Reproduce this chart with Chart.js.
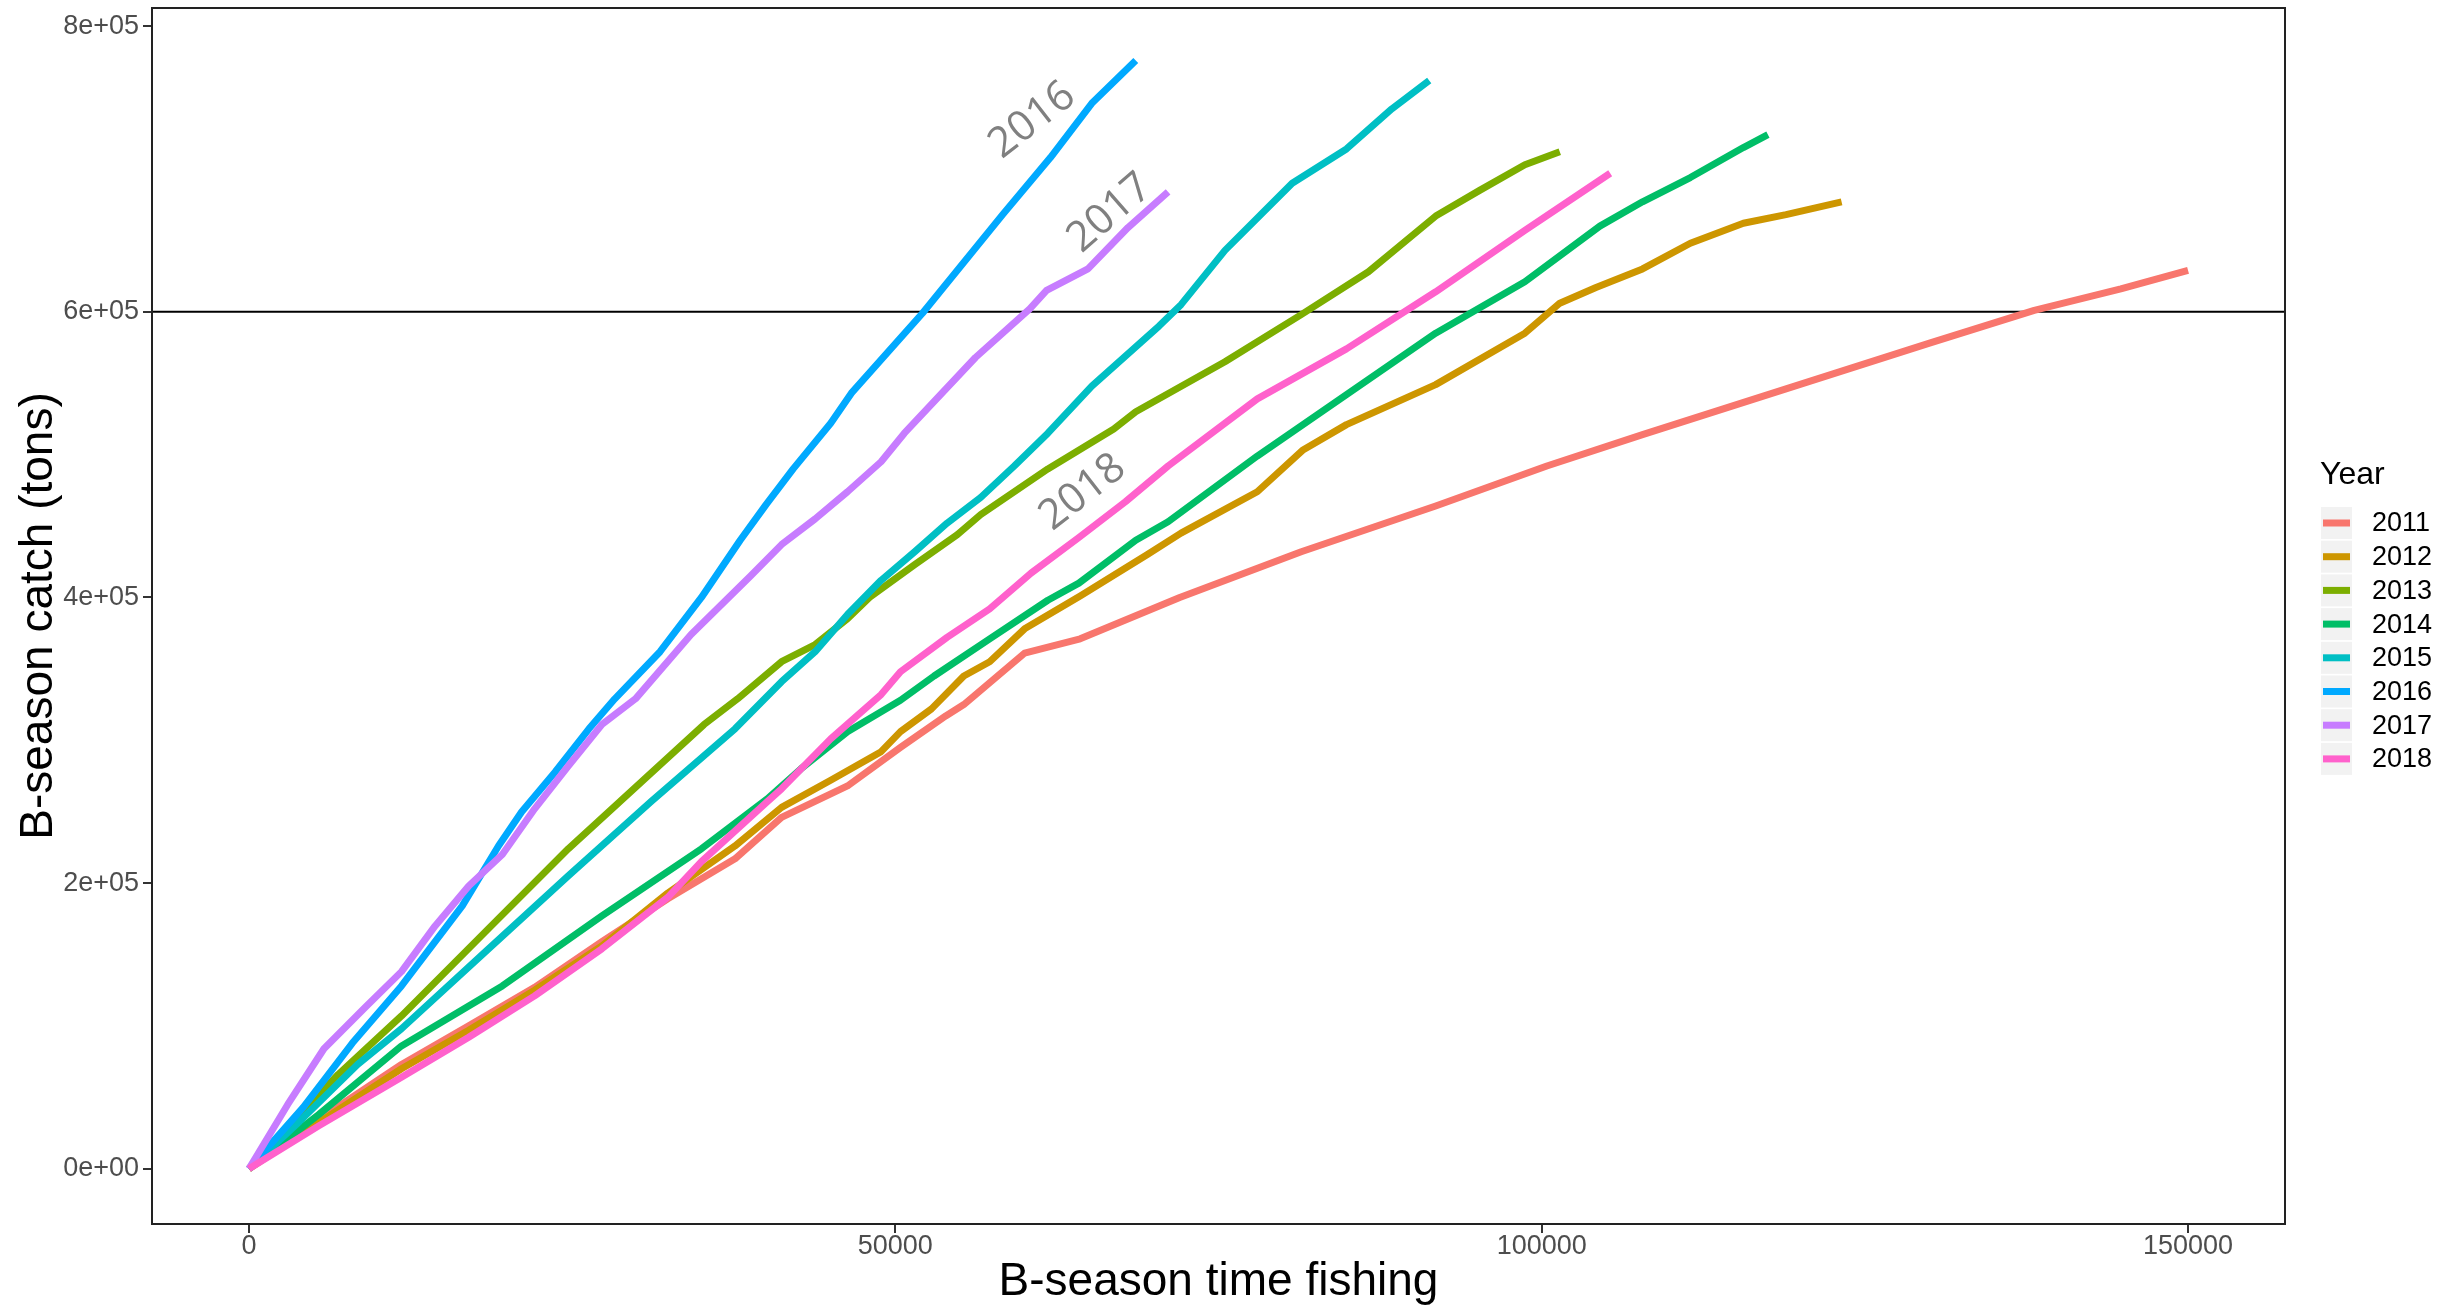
<!DOCTYPE html>
<html>
<head>
<meta charset="utf-8">
<script src="https://cdn.jsdelivr.net/npm/chart.js@4.4.1/dist/chart.umd.min.js"></script>
<style>
  html, body { margin: 0; padding: 0; background: #ffffff; }
  #wrap { width: 2463px; height: 1310px; }
</style>
</head>
<body>
<div id="wrap"><canvas id="c" width="2463" height="1310"></canvas></div>
<script>
// ---------------- DATA ----------------
const years = ['2011', '2012', '2013', '2014', '2015', '2016', '2017', '2018'];

const x2011 = [0, 5000, 11800, 17000, 22100, 27300, 32400, 37600, 41200, 46300, 50400, 53900, 55300, 60000, 64300, 72000, 81400, 91800, 100400, 107800, 118900, 130000, 138100, 144800, 150000];
const y2011 = [0, 32000, 73000, 100000, 127000, 159000, 189000, 217000, 246000, 268000, 295000, 317000, 325000, 361000, 371000, 400000, 432000, 464000, 492000, 514000, 546000, 578000, 601000, 616000, 629000];

const x2012 = [0, 5000, 11800, 17000, 22100, 27300, 32400, 37600, 41200, 45000, 48900, 50400, 52800, 55300, 57300, 60000, 64300, 69500, 72100, 78000, 81500, 84900, 91800, 98700, 101400, 104200, 107800, 111500, 115600, 118900, 123200];
const y2012 = [0, 30000, 70000, 97000, 125000, 156000, 193000, 226000, 253000, 272000, 292000, 306000, 322000, 345000, 355000, 378000, 401000, 430000, 445000, 474000, 503000, 521000, 549000, 585000, 606000, 617000, 630000, 648000, 662000, 668000, 677000];

const x2013 = [0, 6900, 11800, 18300, 24700, 31100, 35200, 37800, 41200, 43800, 46300, 48000, 51500, 54800, 56600, 61800, 66900, 68600, 75500, 81400, 86600, 91800, 95200, 98700, 101400];
const y2013 = [0, 66000, 107000, 166000, 224000, 277000, 311000, 329000, 355000, 367000, 385000, 400000, 423000, 444000, 458000, 490000, 518000, 530000, 565000, 598000, 628000, 667000, 685000, 703000, 712000];

const x2014 = [0, 5400, 11800, 19600, 27300, 35000, 40100, 42700, 46300, 50400, 53000, 57300, 61800, 64200, 68600, 71100, 78000, 84900, 91800, 98700, 104500, 107800, 111500, 115600, 117500];
const y2014 = [0, 38000, 86000, 128000, 177000, 224000, 259000, 280000, 306000, 328000, 345000, 371000, 398000, 410000, 440000, 453000, 499000, 542000, 585000, 621000, 660000, 677000, 694000, 715000, 724000];

const x2015 = [0, 3900, 8400, 11800, 18300, 24700, 31100, 37600, 41200, 43800, 46300, 48900, 51500, 54000, 56600, 59200, 61800, 65200, 70400, 72100, 75500, 80700, 84900, 88400, 91300];
const y2015 = [0, 33000, 73000, 98000, 152000, 205000, 257000, 308000, 341000, 362000, 388000, 412000, 432000, 452000, 470000, 492000, 515000, 548000, 590000, 605000, 643000, 690000, 714000, 742000, 762000];

const x2016 = [0, 4200, 8000, 11800, 16500, 19300, 21100, 23700, 26300, 28300, 31800, 35000, 38000, 40000, 42100, 45000, 46600, 52100, 58300, 62000, 65200, 68600];
const y2016 = [0, 43000, 88000, 128000, 184000, 226000, 250000, 278000, 308000, 329000, 362000, 400000, 440000, 465000, 490000, 522000, 543000, 599000, 668000, 708000, 746000, 776000];

const x2017 = [0, 3000, 5800, 9000, 11800, 14400, 17000, 19600, 22100, 24700, 27300, 29900, 34200, 38800, 41200, 43800, 46300, 48900, 50700, 56200, 60400, 61700, 64900, 68000, 71100];
const y2017 = [0, 45000, 84000, 113000, 138000, 170000, 198000, 220000, 252000, 282000, 311000, 329000, 374000, 415000, 437000, 455000, 474000, 495000, 515000, 568000, 602000, 615000, 630000, 659000, 684000];

const x2018 = [0, 5400, 11800, 17000, 22100, 27300, 32400, 35000, 40100, 41200, 45000, 48900, 50400, 54000, 57300, 60500, 64200, 67800, 71100, 78000, 84900, 91800, 98700, 105300];
const y2018 = [0, 30000, 64000, 92000, 121000, 154000, 190000, 215000, 257000, 266000, 301000, 332000, 348000, 372000, 392000, 417000, 442000, 467000, 492000, 539000, 574000, 614000, 657000, 697000];

const xTicks = [0, 50000, 100000, 150000];
const xTickLabels = ['0', '50000', '100000', '150000'];
const yTicks = [0, 200000, 400000, 600000, 800000];
const yTickLabels = ['0e+00', '2e+05', '4e+05', '6e+05', '8e+05'];

const refLineValue = 600000;

const labelTexts = ['2016', '2017', '2018'];
const labelX = [60600, 66600, 64500];
const labelY = [734000, 669000, 473500];

// ---------------- STYLE ----------------
const seriesX = [x2011, x2012, x2013, x2014, x2015, x2016, x2017, x2018];
const seriesY = [y2011, y2012, y2013, y2014, y2015, y2016, y2017, y2018];
const colors = ['#F8766D', '#CD9600', '#7CAE00', '#00BE67', '#00BFC4', '#00A9FF', '#C77CFF', '#FF61CC'];
const labelAngles = [38, 41, 38];
const SANS = "'Liberation Sans', Arial, Helvetica, sans-serif";

const datasets = years.map((yr, i) => ({
  label: yr,
  data: seriesX[i].map((xv, j) => ({ x: xv, y: seriesY[i][j] })),
  borderColor: colors[i],
  backgroundColor: colors[i],
  borderWidth: 7,
  pointRadius: 0,
  pointHoverRadius: 0,
  tension: 0,
  fill: false,
  borderCapStyle: 'butt',
  borderJoinStyle: 'round',
  order: years.length - i
}));

// reference line (under the series) + panel frame + annotations + legend
const decorPlugin = {
  id: 'decor',
  beforeDatasetsDraw(chart) {
    const { ctx, chartArea: a, scales: { y } } = chart;
    const py = y.getPixelForValue(refLineValue);
    ctx.save();
    ctx.strokeStyle = '#000000';
    ctx.lineWidth = 2;
    ctx.beginPath();
    ctx.moveTo(a.left, py);
    ctx.lineTo(a.right, py);
    ctx.stroke();
    ctx.restore();
  },
  afterDatasetsDraw(chart) {
    const { ctx, chartArea: a, scales: { x, y } } = chart;
    ctx.save();
    ctx.fillStyle = '#808080';
    ctx.font = "400 42px 'Open Sans', 'Noto Sans', sans-serif";
    ctx.textAlign = 'center';
    ctx.textBaseline = 'middle';
    labelTexts.forEach((t, i) => {
      const px = x.getPixelForValue(labelX[i]);
      const py = y.getPixelForValue(labelY[i]);
      ctx.save();
      ctx.translate(px, py);
      ctx.rotate(-labelAngles[i] * Math.PI / 180);
      ctx.fillText(t, 0, 0);
      ctx.restore();
    });
    ctx.restore();
    ctx.save();
    ctx.strokeStyle = '#222222';
    ctx.lineWidth = 2;
    ctx.strokeRect(a.left, a.top, a.right - a.left, a.bottom - a.top);
    ctx.restore();
  },
  afterDraw(chart) {
    const { ctx, chartArea: a } = chart;
    const keyLeft = a.right + 36;
    const rowH = 33.7;
    const firstRow = 523;
    ctx.save();
    ctx.fillStyle = '#000000';
    ctx.font = '32px ' + SANS;
    ctx.textAlign = 'left';
    ctx.textBaseline = 'middle';
    ctx.fillText('Year', keyLeft - 1, 475);
    years.forEach((yr, i) => {
      const cy = firstRow + i * rowH;
      ctx.fillStyle = '#F2F2F2';
      ctx.fillRect(keyLeft, cy - 16, 31, 32);
      ctx.strokeStyle = colors[i];
      ctx.lineWidth = 7;
      ctx.lineCap = 'butt';
      ctx.beginPath();
      ctx.moveTo(keyLeft + 2, cy);
      ctx.lineTo(keyLeft + 29, cy);
      ctx.stroke();
      ctx.fillStyle = '#000000';
      ctx.font = '27px ' + SANS;
      ctx.fillText(yr, keyLeft + 51, cy + 1);
    });
    ctx.restore();
  }
};

new Chart(document.getElementById('c'), {
  type: 'line',
  data: { datasets },
  plugins: [decorPlugin],
  options: {
    responsive: false,
    devicePixelRatio: 1,
    animation: false,
    events: [],
    layout: { padding: { left: 0, right: 178, top: 8, bottom: 0 } },
    plugins: {
      legend: { display: false },
      tooltip: { enabled: false },
      title: { display: false }
    },
    scales: {
      x: {
        type: 'linear',
        position: 'bottom',
        min: -7500,
        max: 157500,
        afterBuildTicks: (s) => { s.ticks = xTicks.map(v => ({ value: v })); },
        afterFit: (s) => { s.height = 86; s.paddingLeft = 0; s.paddingRight = 0; },
        ticks: {
          autoSkip: false,
          maxRotation: 0,
          padding: 0,
          color: '#4D4D4D',
          font: { family: SANS, size: 27, lineHeight: 1 },
          callback: (v, i) => xTickLabels[i]
        },
        grid: { display: true, drawOnChartArea: false, drawTicks: true, tickLength: 9, color: '#333333', lineWidth: 2 },
        border: { display: false },
        title: {
          display: true,
          text: 'B-season time fishing',
          color: '#000000',
          font: { family: SANS, size: 46 },
          padding: { top: 0, bottom: 0 }
        }
      },
      y: {
        type: 'linear',
        min: -38700,
        max: 812700,
        afterBuildTicks: (s) => { s.ticks = yTicks.map(v => ({ value: v })); },
        afterFit: (s) => { s.width = 152; s.paddingTop = 0; s.paddingBottom = 0; },
        ticks: {
          autoSkip: false,
          padding: 4,
          color: '#4D4D4D',
          font: { family: SANS, size: 27 },
          callback: (v, i) => yTickLabels[i]
        },
        grid: { display: true, drawOnChartArea: false, drawTicks: true, tickLength: 9, color: '#333333', lineWidth: 2 },
        border: { display: false },
        title: {
          display: true,
          text: 'B-season catch (tons)',
          color: '#000000',
          font: { family: SANS, size: 46 },
          padding: { top: 12, bottom: 0 }
        }
      }
    }
  }
});
</script>
</body>
</html>
